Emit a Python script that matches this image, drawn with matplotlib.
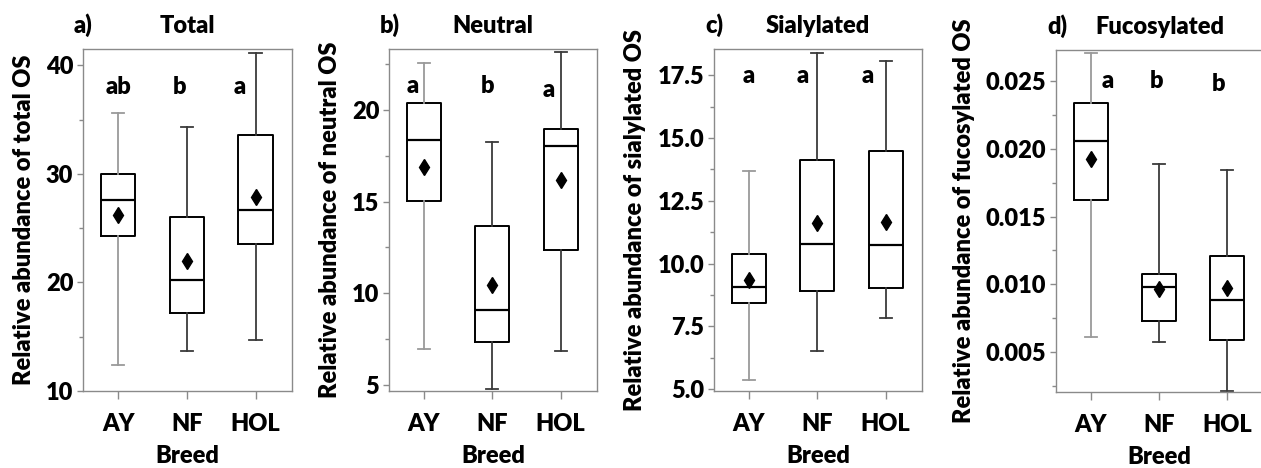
import numpy as np
import matplotlib.pyplot as plt
from matplotlib.ticker import MultipleLocator

plt.rcParams['font.family'] = 'Lato'
plt.rcParams['font.weight'] = 'heavy'

breeds = ["AY", "NF", "HOL"]

# a) Total
total_low = [12.4, 13.7, 14.7]
total_q1 = [24.3, 17.2, 23.5]
total_med = [27.6, 20.2, 26.7]
total_q3 = [30.0, 26.0, 33.6]
total_high = [35.6, 34.3, 41.1]
total_mean = [26.2, 22.0, 27.9]
total_letters = ["ab", "b", "a"]

# b) Neutral
neutral_low = [6.95, 4.78, 6.83]
neutral_q1 = [15.05, 7.33, 12.38]
neutral_med = [18.37, 9.07, 18.04]
neutral_q3 = [20.4, 13.65, 18.95]
neutral_high = [22.57, 18.24, 23.15]
neutral_mean = [16.87, 10.43, 16.2]
neutral_letters = ["a", "b", "a"]

# c) Sialylated
sial_low = [5.37, 6.51, 7.84]
sial_q1 = [8.41, 8.9, 9.01]
sial_med = [9.06, 10.77, 10.74]
sial_q3 = [10.38, 14.13, 14.5]
sial_high = [13.67, 18.41, 18.07]
sial_mean = [9.34, 11.6, 11.67]
sial_letters = ["a", "a", "a"]

# d) Fucosylated
fuc_low = [0.0061, 0.00576, 0.00212]
fuc_q1 = [0.01622, 0.0073, 0.00591]
fuc_med = [0.02054, 0.00983, 0.00886]
fuc_q3 = [0.02336, 0.01079, 0.01209]
fuc_high = [0.02704, 0.01887, 0.01843]
fuc_mean = [0.01924, 0.00968, 0.00972]
fuc_letters = ["a", "b", "b"]

W, H = 1261, 468
fig = plt.figure(figsize=(W / 100, H / 100), dpi=100)

FS = 17
WT = "heavy"
GRAY = "#8a8a8a"


def make_ax(left, right, top, bottom):
    return fig.add_axes([left / W, 1 - bottom / H, (right - left) / W, (bottom - top) / H])


def panel(ax, tag, title, ylabel, low, q1, med, q3, high, mean, letters,
          ylim, major, minor, let_dx, let_y):
    stats = []
    for i in range(len(breeds)):
        stats.append(dict(whislo=low[i], q1=q1[i], med=med[i], q3=q3[i],
                          whishi=high[i], mean=mean[i], fliers=[], label=breeds[i]))
    pos = np.arange(len(breeds))
    res = ax.bxp(stats, positions=pos, widths=0.5, showmeans=True, showfliers=False,
                 capwidths=0.18,
                 boxprops=dict(color="black", lw=1.4),
                 medianprops=dict(color="black", lw=1.6),
                 whiskerprops=dict(color="#3a3a3a", lw=1.3),
                 capprops=dict(color="#3a3a3a", lw=1.3),
                 meanprops=dict(marker="d", markerfacecolor="black",
                                markeredgecolor="black", markersize=8))
    # AY whiskers are lighter in the original
    for ln in res["whiskers"][:2] + res["caps"][:2]:
        ln.set_color("#9a9a9a")

    ax.set_xlim(-0.51, 2.53)
    ax.set_ylim(*ylim)
    ax.yaxis.set_major_locator(MultipleLocator(major))
    ax.yaxis.set_minor_locator(MultipleLocator(minor))
    for sp in ax.spines.values():
        sp.set_color(GRAY)
        sp.set_linewidth(1.0)
    ax.tick_params(axis="y", which="major", length=4, width=1, color=GRAY,
                   labelsize=FS, pad=3)
    ax.tick_params(axis="y", which="minor", length=3, width=1, color=GRAY)
    ax.tick_params(axis="x", length=6, width=1, color=GRAY, labelsize=FS, pad=10)
    for lb in ax.get_xticklabels() + ax.get_yticklabels():
        lb.set_fontweight(WT)

    for i, t in enumerate(letters):
        ax.text(pos[i] + let_dx[i], let_y[i], t, ha="center", va="center",
                fontsize=FS, fontweight=WT, zorder=5,
                bbox=dict(facecolor="white", edgecolor="none", pad=1))

    ax.set_xlabel("Breed", fontsize=FS, fontweight=WT, labelpad=7)
    ax.set_ylabel(ylabel, fontsize=FS, fontweight=WT, labelpad=8)
    ax.set_title(title, fontsize=FS, fontweight=WT, pad=11.5)
    ax.annotate(tag, xy=(0, 1), xycoords="axes fraction", xytext=(-9, 16),
                textcoords="offset pixels", ha="left", va="baseline",
                fontsize=FS, fontweight=WT)


ax1 = make_ax(83, 292, 49, 391)
panel(ax1, "a)", "Total", "Relative abundance of total OS",
      total_low, total_q1, total_med, total_q3, total_high, total_mean, total_letters,
      (10, 41.5), 10, 5, [0, -0.1, -0.23], [38.0, 38.0, 38.0])

ax2 = make_ax(389, 597, 49, 391)
panel(ax2, "b)", "Neutral", "Relative abundance of neutral OS",
      neutral_low, neutral_q1, neutral_med, neutral_q3, neutral_high, neutral_mean,
      neutral_letters, (4.67, 23.33), 5, 2.5, [-0.17, -0.07, -0.18], [21.3, 21.3, 21.1])

ax3 = make_ax(714, 922, 49, 391)
panel(ax3, "c)", "Sialylated", "Relative abundance of sialylated OS",
      sial_low, sial_q1, sial_med, sial_q3, sial_high, sial_mean, sial_letters,
      (4.92, 18.55), 2.5, 1.25, [0, -0.22, -0.26], [17.47, 17.47, 17.47])

ax4 = make_ax(1056, 1263, 50, 392)
panel(ax4, "d)", "Fucosylated", "Relative abundance of fucosylated OS",
      fuc_low, fuc_q1, fuc_med, fuc_q3, fuc_high, fuc_mean, fuc_letters,
      (0.00206, 0.02728), 0.005, 0.0025, [0.25, -0.04, -0.13], [0.025, 0.025, 0.02474])

fig.savefig("out.png", dpi=100)
